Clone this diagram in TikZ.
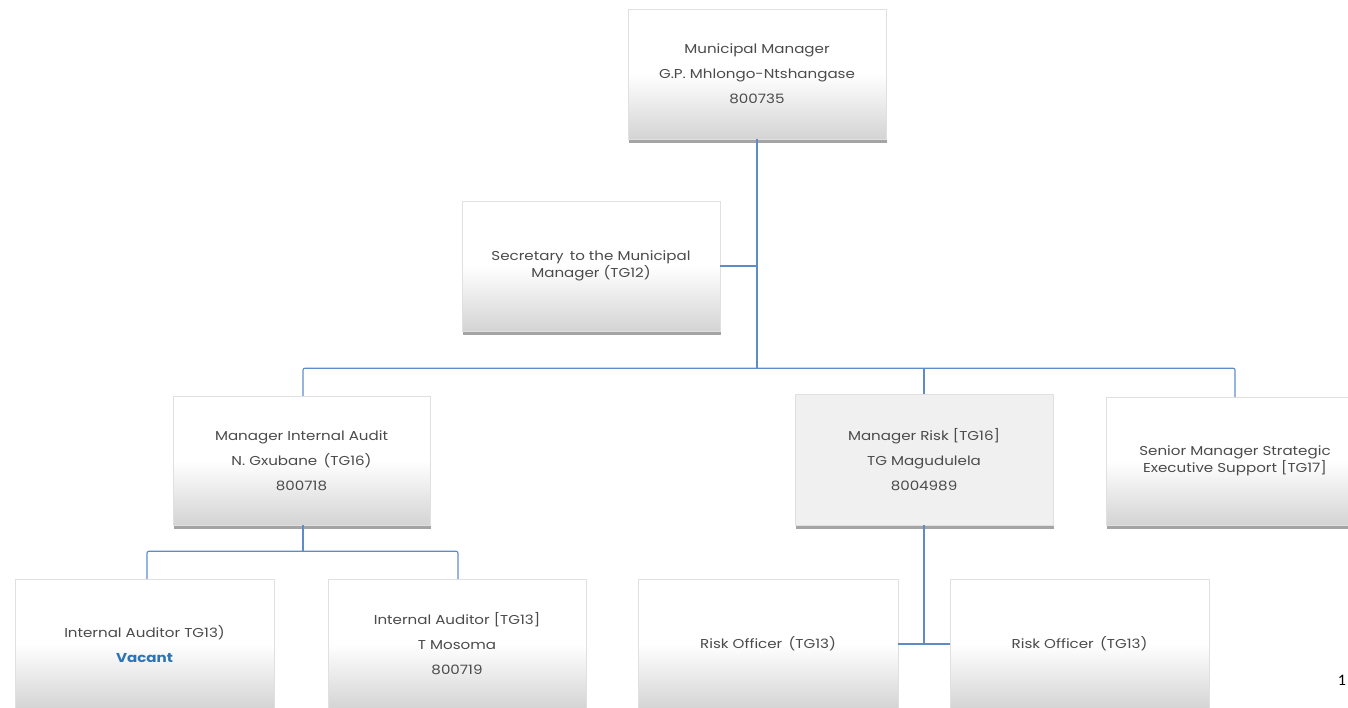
\documentclass[tikz,border=0pt]{standalone}
\usepackage{fontspec}
\setmainfont{Poppins}[FakeStretch=1.17]
\newfontfamily\numfont{Carlito}
\usetikzlibrary{shadows}
\definecolor{linkblue}{RGB}{95,140,198}
\definecolor{txtgray}{RGB}{75,75,75}
\definecolor{vacblue}{RGB}{46,116,181}
\tikzset{
  orgbox/.style={rectangle, draw=black!12, line width=0.4pt,
    top color=white, bottom color=black!17, middle color=white,
    minimum width=258pt, minimum height=130pt, align=center,
    text=txtgray, font=\fontsize{12.9}{25}\selectfont,
    drop shadow={shadow xshift=1pt, shadow yshift=-3.5pt, fill=black!55, opacity=0.65}},
  flatbox/.style={orgbox, top color=black!6, bottom color=black!6, middle color=black!6},
  link/.style={draw=linkblue, line width=1.1pt},
}
\begin{document}
\begin{tikzpicture}[x=1pt,y=-1pt]
\useasboundingbox (0,0) rectangle (1348,707);
\clip (0,0) rectangle (1348,707);
\node[orgbox] (mm) at (757,74) {Municipal Manager\\G.P. Mhlongo-Ntshangase\\800735};
\node[orgbox] (sec) at (591,266) {Secretary\, to the Municipal\\[-8pt]Manager (TG12)};
\node[orgbox, minimum width=257pt, minimum height=129pt] (iam) at (301.5,460.5) {Manager Internal Audit\\N. Gxubane\, (TG16)\\800718};
\node[flatbox, minimum height=131pt] (risk) at (924,459.5) {Manager Risk [TG16]\\TG Magudulela\\8004989};
\node[orgbox, minimum height=128pt] (sen) at (1235,461) {Senior Manager Strategic\\[-8pt]Executive Support [TG17]};
\node[orgbox, minimum width=259pt] (ia1) at (144.5,644) {Internal Auditor TG13)\\{\color{vacblue}\bfseries Vacant}};
\node[orgbox] (ia2) at (457,644) {Internal Auditor [TG13]\\T Mosoma\\800719};
\node[orgbox, minimum width=260pt] (ro1) at (768,644) {Risk Officer\, (TG13)};
\node[orgbox, minimum width=259pt] (ro2) at (1079.5,644) {Risk Officer\, (TG13)};
\node[font=\numfont\fontsize{16}{18}\selectfont, text=black] (pg) at (1342,680) {1};
% connectors
\draw[link] (mm.south) -- ++(0,229) coordinate (hub);
\draw[link] (sec.east) -- (sec.east -| mm.south);
\draw[link, rounded corners=2pt] ([xshift=1.5pt]iam.north) -- ([xshift=1.5pt]iam.north |- hub) -- (sen.north |- hub) -- (sen.north);
\draw[link] (risk.north) -- (risk.north |- hub);
\draw[link] ([xshift=1.5pt]iam.south) -- ++(0,26) coordinate (hub2);
\draw[link, rounded corners=2pt] ([xshift=2.5pt]ia1.north) -- ([xshift=2.5pt]ia1.north |- hub2) -- ([xshift=1pt]ia2.north |- hub2) -- ([xshift=1pt]ia2.north);
\draw[link] (risk.south) -- (risk.south |- ro1.east);
\draw[link] (ro1.east) -- (ro2.west);
\end{tikzpicture}
\end{document}
